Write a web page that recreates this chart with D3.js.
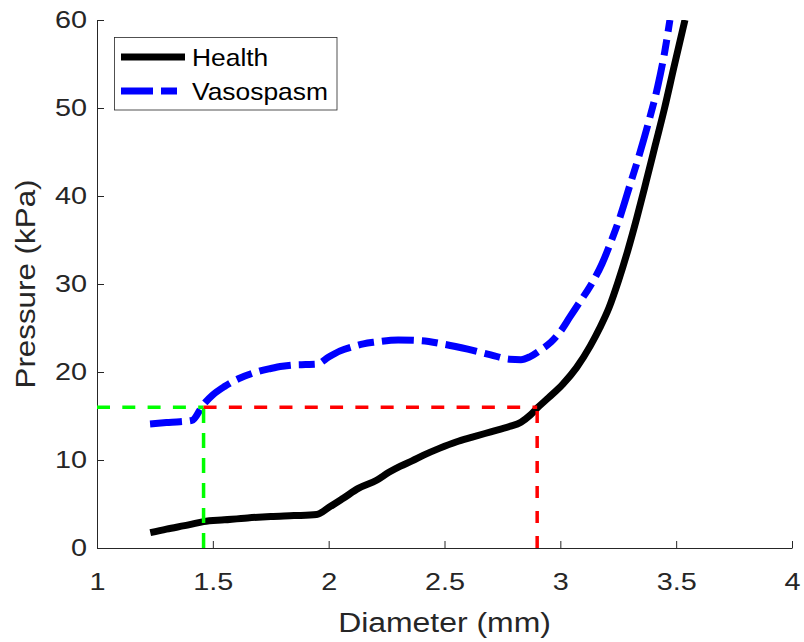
<!DOCTYPE html>
<html>
<head>
<meta charset="utf-8">
<script src="https://cdn.jsdelivr.net/npm/d3@7"></script>
<style>
  html, body { margin: 0; padding: 0; background: #fff; }
  svg { display: block; }
  text { font-family: "Liberation Sans", Arial, Helvetica, sans-serif; fill: #262626; }
</style>
</head>
<body>
<div id="chart"></div>
<script>
// ---------------- data ----------------
const healthDiameter = [1.23, 1.30, 1.40, 1.46, 1.55, 1.65, 1.75, 1.85, 1.948, 2.00, 2.063, 2.13, 2.207, 2.26, 2.31, 2.36, 2.41, 2.48, 2.55, 2.62, 2.70, 2.78, 2.83, 2.87, 2.90, 2.95, 3.01, 3.07, 3.13, 3.17, 3.21, 3.25, 3.29, 3.33, 3.37, 3.41, 3.45, 3.49, 3.538];
const healthPressure = [1.75, 2.15, 2.65, 3.0, 3.2, 3.42, 3.58, 3.68, 3.8, 4.6, 5.65, 6.8, 7.7, 8.6, 9.3, 9.9, 10.55, 11.35, 12.05, 12.6, 13.2, 13.8, 14.3, 15.1, 15.9, 17.1, 18.6, 20.5, 23.0, 25.0, 27.3, 30.3, 33.7, 37.5, 41.6, 45.8, 50.0, 54.6, 60];

const spasmDiameter = [1.229, 1.30, 1.358, 1.41, 1.459, 1.50, 1.55, 1.60, 1.65, 1.70, 1.75, 1.80, 1.85, 1.90, 1.95, 2.00, 2.05, 2.10, 2.15, 2.20, 2.30, 2.40, 2.50, 2.60, 2.70, 2.78, 2.83, 2.87, 2.92, 2.96, 3.00, 3.04, 3.08, 3.13, 3.18, 3.22, 3.26, 3.30, 3.34, 3.38, 3.42, 3.45, 3.473];
const spasmPressure = [14.1, 14.25, 14.35, 14.5, 16.3, 17.4, 18.35, 19.1, 19.65, 20.1, 20.4, 20.65, 20.8, 20.85, 20.9, 21.7, 22.4, 22.85, 23.2, 23.4, 23.64, 23.55, 23.15, 22.6, 21.95, 21.45, 21.4, 21.75, 22.6, 23.4, 24.6, 26.2, 27.8, 29.8, 32.3, 34.9, 37.8, 41.2, 44.6, 48.3, 52.4, 56.3, 60];

const refPressure = 16;
const spasmRefDiameter = 1.46;
const healthRefDiameter = 2.9;

const xTicks = [1, 1.5, 2, 2.5, 3, 3.5, 4];
const yTicks = [0, 10, 20, 30, 40, 50, 60];
const seriesNames = ["Health", "Vasospasm"];
const xLabel = "Diameter (mm)";
const yLabel = "Pressure (kPa)";

// ---------------- layout ----------------
const W = 804, H = 642;
const margin = { left: 97, top: 20, right: 12, bottom: 94 };
const axisColor = "#262626";

const svg = d3.select("#chart").append("svg")
  .attr("width", W).attr("height", H);

const x = d3.scaleLinear().domain([1, 4]).range([margin.left, W - margin.right]);
const y = d3.scaleLinear().domain([0, 60]).range([H - margin.bottom, margin.top]);

svg.append("clipPath").attr("id", "clip").append("rect")
  .attr("x", x(1)).attr("y", y(60)).attr("width", x(4) - x(1)).attr("height", y(0) - y(60));

// axes
const xAxis = svg.append("g")
  .attr("transform", `translate(0,${y(0)})`)
  .call(d3.axisBottom(x).tickValues(xTicks).tickFormat(d => String(d))
    .tickSizeInner(-7).tickSizeOuter(0).tickPadding(25));
const yAxis = svg.append("g")
  .attr("transform", `translate(${x(1)},0)`)
  .call(d3.axisLeft(y).tickValues(yTicks).tickFormat(d => String(d))
    .tickSizeInner(-7).tickSizeOuter(0).tickPadding(10));

[xAxis, yAxis].forEach(g => {
  g.select(".domain").attr("stroke", axisColor).attr("stroke-width", 1);
  g.selectAll(".tick line").attr("stroke", axisColor).attr("stroke-width", 1);
  g.selectAll(".tick text")
    .attr("fill", axisColor)
    .style("font-size", "24px")
    .style("font-family", '"Liberation Sans", Arial, Helvetica, sans-serif');
});
xAxis.selectAll(".tick text").attr("transform", "scale(1.2,1)");
yAxis.selectAll(".tick text").attr("x", -10 / 1.2).attr("transform", "scale(1.2,1)");

// axis labels
svg.append("text")
  .attr("transform", `translate(${(x(1) + x(4)) / 2},632) scale(1.14,1)`)
  .attr("text-anchor", "middle")
  .style("font-size", "28px")
  .text(xLabel);
svg.append("text")
  .attr("transform", `translate(35,${(y(0) + y(60)) / 2}) rotate(-90) scale(1.12,1)`)
  .attr("text-anchor", "middle")
  .style("font-size", "28px")
  .text(yLabel);

// curves
const plot = svg.append("g").attr("clip-path", "url(#clip)");
const curveLine = d3.line().x(d => x(d[0])).y(d => y(d[1])).curve(d3.curveMonotoneX);
const straight = d3.line().x(d => x(d[0])).y(d => y(d[1]));

const healthData = healthDiameter.map((d, i) => [d, healthPressure[i]]);
const spasmData = spasmDiameter.map((d, i) => [d, spasmPressure[i]]);

plot.append("path").datum(healthData)
  .attr("d", curveLine).attr("fill", "none").attr("stroke", "#000")
  .attr("stroke-width", 7).attr("stroke-linejoin", "round");

plot.append("path").datum(spasmData)
  .attr("d", curveLine).attr("fill", "none").attr("stroke", "#0000ff")
  .attr("stroke-width", 7).attr("stroke-dasharray", "32,8,16,8");

// reference dashed lines
const refDash = "13,12.3";
plot.append("path").datum([[1, refPressure], [spasmRefDiameter, refPressure]])
  .attr("d", straight).attr("fill", "none").attr("stroke", "#00ff00")
  .attr("stroke-width", 3.5).attr("stroke-dasharray", refDash);
plot.append("path").datum([[spasmRefDiameter, 0], [spasmRefDiameter, refPressure]])
  .attr("d", straight).attr("fill", "none").attr("stroke", "#00ff00")
  .attr("stroke-width", 3.5).attr("stroke-dasharray", "15,10");
plot.append("path").datum([[spasmRefDiameter, refPressure], [healthRefDiameter, refPressure]])
  .attr("d", straight).attr("fill", "none").attr("stroke", "#ff0000")
  .attr("stroke-width", 3.5).attr("stroke-dasharray", refDash);
plot.append("path").datum([[healthRefDiameter, 0], [healthRefDiameter, refPressure]])
  .attr("d", straight).attr("fill", "none").attr("stroke", "#ff0000")
  .attr("stroke-width", 3.5).attr("stroke-dasharray", "12,13");

// legend
const lg = svg.append("g");
lg.append("rect")
  .attr("x", 114.5).attr("y", 37.5).attr("width", 222.5).attr("height", 72.5)
  .attr("fill", "#fff").attr("stroke", axisColor).attr("stroke-width", 0.8);
const legendItems = [
  { name: seriesNames[0], color: "#000", dash: null, yy: 57 },
  { name: seriesNames[1], color: "#0000ff", dash: "32,8,16,8", yy: 91 }
];
legendItems.forEach(it => {
  const l = lg.append("line")
    .attr("x1", 121).attr("x2", 185).attr("y1", it.yy).attr("y2", it.yy)
    .attr("stroke", it.color).attr("stroke-width", 7);
  if (it.dash) l.attr("stroke-dasharray", it.dash);
  lg.append("text")
    .attr("transform", `translate(192,${it.yy + 9}) scale(1.1,1)`)
    .style("font-size", "24px")
    .style("fill", "#000")
    .text(it.name);
});
</script>
</body>
</html>
